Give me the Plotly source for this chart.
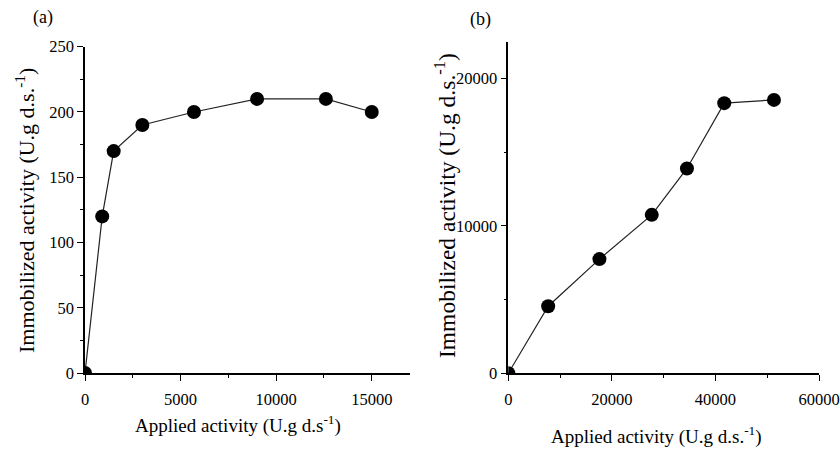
import plotly.graph_objects as go

# Panel (a): immobilized vs applied activity, low range
applied_a = [0, 900, 1500, 3000, 5700, 9000, 12600, 15000]
immob_a = [0, 120, 170, 190, 200, 210, 210, 200]

# Panel (b): immobilized vs applied activity, high range
applied_b = [0, 7700, 17600, 27700, 34500, 41700, 51300]
immob_b = [0, 4550, 7750, 10750, 13900, 18330, 18550]

W, H = 840, 450
FONT = "Liberation Serif, Times New Roman, serif"


def px_x(x):
    return x / W


def px_y(y):
    return 1 - y / H


fig = go.Figure()

marker = dict(color="black", size=14)
line = dict(color="#222222", width=1.2)

fig.add_trace(go.Scatter(x=applied_a, y=immob_a, mode="lines+markers",
                         marker=marker, line=line, xaxis="x", yaxis="y",
                         cliponaxis=True, showlegend=False))
fig.add_trace(go.Scatter(x=applied_b, y=immob_b, mode="lines+markers",
                         marker=marker, line=line, xaxis="x2", yaxis="y2",
                         cliponaxis=True, showlegend=False))

axis_common = dict(
    showline=True, linecolor="black", linewidth=1.5,
    ticks="outside", ticklen=6, tickwidth=1.2, tickcolor="black",
    showgrid=False, zeroline=False, tickformat="d",
    ticklabeloverflow="allow", automargin=False,
    tickfont=dict(family=FONT, size=16.5, color="black"),
)

fig.update_layout(
    template="none",
    width=W, height=H,
    margin=dict(l=0, r=0, t=0, b=0, pad=0),
    paper_bgcolor="white", plot_bgcolor="white",
    xaxis=dict(domain=[px_x(85), px_x(410)], range=[0, 17000], anchor="y",
               tickvals=[0, 5000, 10000, 15000], ticklabelstandoff=4,
               minor=dict(ticks="outside", ticklen=3, tickcolor="black", dtick=2500, tick0=0),
               **axis_common),
    yaxis=dict(domain=[px_y(373), px_y(46.7)], range=[0, 250], anchor="x",
               tickvals=[0, 50, 100, 150, 200, 250],
               minor=dict(ticks="outside", ticklen=3, tickcolor="black", dtick=25, tick0=0),
               **axis_common),
    xaxis2=dict(domain=[px_x(508.3), px_x(819)], range=[0, 60000], anchor="y2",
                tickvals=[0, 20000, 40000, 60000], ticklabelstandoff=4,
                minor=dict(ticks="outside", ticklen=3, tickcolor="black", dtick=10000, tick0=0),
                **axis_common),
    yaxis2=dict(domain=[px_y(373.3), px_y(41.7)], range=[0, 22500], anchor="x2",
                tickvals=[0, 10000, 20000],
                minor=dict(ticks="outside", ticklen=3, tickcolor="black", dtick=5000, tick0=0),
                **axis_common),
)

xtitle_font = dict(family=FONT, size=19, color="black")
annotations = [
    dict(text="Immobilized activity (U.g d.s.<sup>-1</sup>)", x=px_x(25), y=px_y(211),
         textangle=-90, font=dict(family=FONT, size=22, color="black")),
    dict(text="Immobilized activity (U.g d.s.<sup>-1</sup>)", x=px_x(445), y=px_y(206),
         textangle=-90, font=dict(family=FONT, size=23.5, color="black")),
    dict(text="Applied activity (U.g d.s<sup>-1</sup>)", x=px_x(238), y=px_y(424),
         font=xtitle_font),
    dict(text="Applied activity (U.g d.s.<sup>-1</sup>)", x=px_x(656), y=px_y(435),
         font=xtitle_font),
    dict(text="(a)", x=px_x(43), y=px_y(17), font=dict(family=FONT, size=18, color="black")),
    dict(text="(b)", x=px_x(481), y=px_y(20), font=dict(family=FONT, size=18, color="black")),
]
for a in annotations:
    fig.add_annotation(xref="paper", yref="paper", xanchor="center", yanchor="middle",
                       showarrow=False, **a)

fig.write_html("out.html")
